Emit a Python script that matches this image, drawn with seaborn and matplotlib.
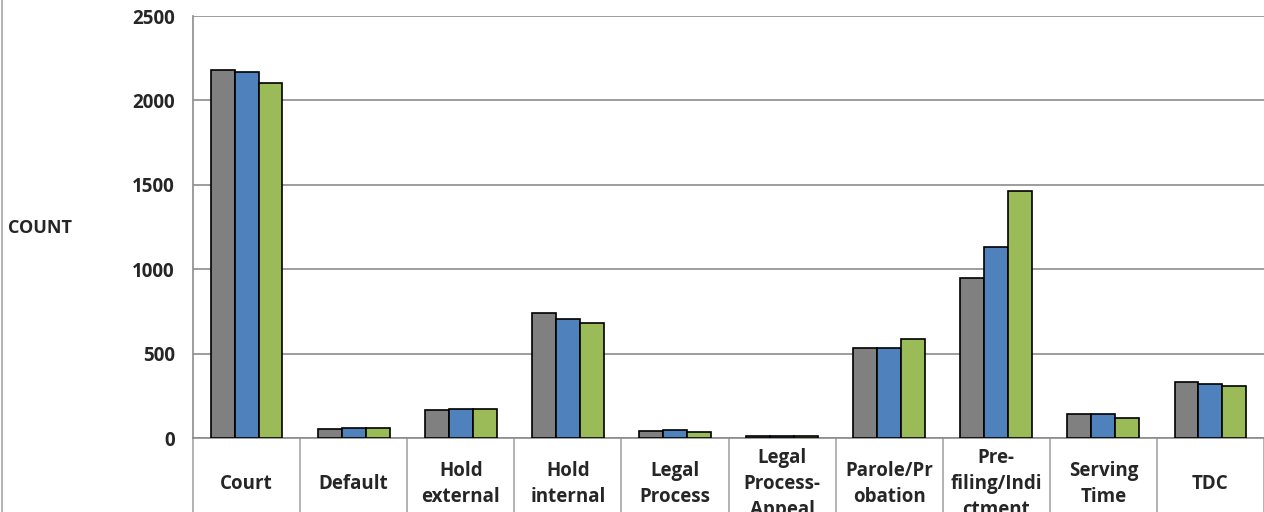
import numpy as np
import pandas as pd
import matplotlib
matplotlib.use('Agg')
import matplotlib.pyplot as plt
import matplotlib.transforms as mtransforms
import seaborn as sns

categories = ['Court', 'Default', 'Hold external', 'Hold internal', 'Legal Process',
              'Legal Process-Appeal', 'Parole/Probation', 'Pre-filing/Indictment',
              'Serving Time', 'TDC']
# wrapped the way the original cells break them
cat_labels = ['Court', 'Default', 'Hold\nexternal', 'Hold\ninternal', 'Legal\nProcess',
              'Legal\nProcess-\nAppeal', 'Parole/Pr\nobation', 'Pre-\nfiling/Indi\nctment',
              'Serving\nTime', 'TDC']
series = ['S1', 'S2', 'S3']
s1 = [2180, 53, 163, 738, 43, 12, 531, 948, 142, 329]
s2 = [2170, 59, 169, 705, 45, 12, 533, 1131, 140, 320]
s3 = [2106, 62, 169, 680, 37, 12, 588, 1463, 121, 311]
colors = ['#808080', '#4F81BD', '#9BBB59']

df = pd.DataFrame({
    'category': categories * 3,
    'series': np.repeat(series, len(categories)),
    'count': s1 + s2 + s3,
})

sns.set_style('white')
plt.rcParams['font.family'] = ['Open Sans', 'DejaVu Sans']

fig = plt.figure(figsize=(12.64, 5.12), dpi=100)
ax = fig.add_axes([193 / 1264, 74 / 512, 1 - 193 / 1264, 422 / 512])

sns.barplot(data=df, x='category', y='count', hue='series', palette=colors,
            order=categories, hue_order=series, width=0.67, gap=0, saturation=1,
            edgecolor='black', linewidth=1.2, ax=ax, legend=False, zorder=3)

ax.set_ylim(0, 2500)
ax.set_xlim(-0.5, len(categories) - 0.5)
ax.set_yticks(np.arange(0, 2501, 500))
ax.yaxis.grid(True, color='#8c8c8c', linewidth=1.2, zorder=0)
ax.set_axisbelow(True)
for side in ['top', 'right']:
    ax.spines[side].set_visible(False)
for side in ['left', 'bottom']:
    ax.spines[side].set_color('#8c8c8c')
    ax.spines[side].set_linewidth(1.2)
ax.tick_params(axis='y', length=7, width=1.2, color='#8c8c8c', labelsize=13.5, pad=6)
for t in ax.get_yticklabels():
    t.set_fontweight('bold')
ax.set_xticks([])
ax.set_xlabel('')
ax.set_ylabel('')

# category cells under the axis
trans = mtransforms.blended_transform_factory(ax.transData, ax.transAxes)
for i, lab in enumerate(cat_labels):
    ax.text(i, -0.11, lab, transform=trans, ha='center', va='center',
            fontsize=13.5, fontweight='bold', linespacing=1.4, clip_on=False)
for b in np.arange(len(categories) + 1) - 0.5:
    ax.plot([b, b], [0, -0.3], transform=trans, color='#a6a6a6', linewidth=1.2,
            clip_on=False)

fig.text(8 / 1264, 1 - 228 / 512, 'COUNT', ha='left', va='center',
         fontsize=13, fontweight='bold')
fig.add_artist(plt.Line2D([2 / 1264, 2 / 1264], [0, 1], color='#a6a6a6', linewidth=1.2))

fig.savefig('out.png', dpi=100)
